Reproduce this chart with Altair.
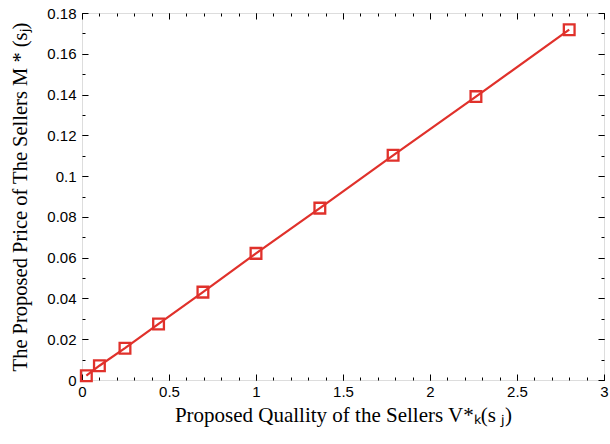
import altair as alt
import pandas as pd

quality = [0.025, 0.10, 0.247, 0.44, 0.695, 1.0, 1.367, 1.788, 2.264, 2.80]
price = [0.0021, 0.0070, 0.0156, 0.0275, 0.0431, 0.0621, 0.0843, 0.1102, 0.139, 0.1718]

x_major = [0, 0.5, 1, 1.5, 2, 2.5, 3]
x_minor = [round(i * 0.1, 1) for i in range(31)]
y_major = [0, 0.02, 0.04, 0.06, 0.08, 0.1, 0.12, 0.14, 0.16, 0.18]
y_minor = [round(i * 0.01, 2) for i in range(19)]

df = pd.DataFrame({"q": quality, "p": price})
RED = "#e0312b"

xs = alt.Scale(domain=[0, 3], nice=False, zero=False)
ys = alt.Scale(domain=[0, 0.18], nice=False, zero=False)


def tick_axis(orient, values, size):
    return alt.Axis(orient=orient, values=values, labels=False, title=None,
                    domain=False, grid=False, ticks=True,
                    tickSize=alt.ExprRef(str(-size)), tickColor="black", tickWidth=1)


base = alt.Chart(df)

main_x = alt.Axis(orient="bottom", values=x_major, ticks=False, domain=False, grid=False,
                  labelFont="Liberation Sans", labelFontSize=15, labelColor="black",
                  labelPadding=4, title="Proposed Quallity of the Sellers V*ₖ(s ⱼ)",
                  titleFont="Liberation Serif", titleFontSize=21, titleFontWeight="normal",
                  titleColor="black", titlePadding=5, labelFlush=False, labelOverlap=False,
                  format="~g")
main_y = alt.Axis(orient="left", values=y_major, ticks=False, domain=False, grid=False,
                  labelFont="Liberation Sans", labelFontSize=15, labelColor="black",
                  labelPadding=6, title="The Proposed Price of The Sellers M * (sⱼ)",
                  titleFont="Liberation Serif", titleFontSize=20.5, titleFontWeight="normal",
                  titleColor="black", titlePadding=16, labelFlush=False, labelOverlap=False,
                  format="~g")

line = base.mark_line(color=RED, strokeWidth=2.2).encode(
    x=alt.X("q:Q", scale=xs, axis=main_x),
    y=alt.Y("p:Q", scale=ys, axis=main_y),
)
pts = base.mark_point(shape="square", filled=False, color=RED, size=115, strokeWidth=2.3, opacity=1).encode(
    x=alt.X("q:Q", scale=xs, axis=tick_axis("bottom", x_major, 6)),
    y=alt.Y("p:Q", scale=ys, axis=tick_axis("left", y_major, 6)),
)
l3 = base.mark_point(opacity=0).encode(
    x=alt.X("q:Q", scale=xs, axis=tick_axis("bottom", x_minor, 3)),
    y=alt.Y("p:Q", scale=ys, axis=tick_axis("left", y_minor, 3)),
)
l4 = base.mark_point(opacity=0).encode(
    x=alt.X("q:Q", scale=xs, axis=tick_axis("top", x_major, 6)),
    y=alt.Y("p:Q", scale=ys, axis=tick_axis("right", y_major, 6)),
)
l5 = base.mark_point(opacity=0).encode(
    x=alt.X("q:Q", scale=xs, axis=tick_axis("top", x_minor, 3)),
    y=alt.Y("p:Q", scale=ys, axis=tick_axis("right", y_minor, 3)),
)

chart = alt.layer(line, pts, l3, l4, l5).resolve_axis(
    x="independent", y="independent"
).properties(
    width=522, height=367,
    autosize=alt.AutoSizeParams(type="none"),
    padding={"left": 82, "top": 13, "right": 6, "bottom": 64},
).configure_view(stroke="black", strokeWidth=1.3).configure(background="white")

chart.save("out.html", embed_options={"renderer": "svg", "actions": False})
